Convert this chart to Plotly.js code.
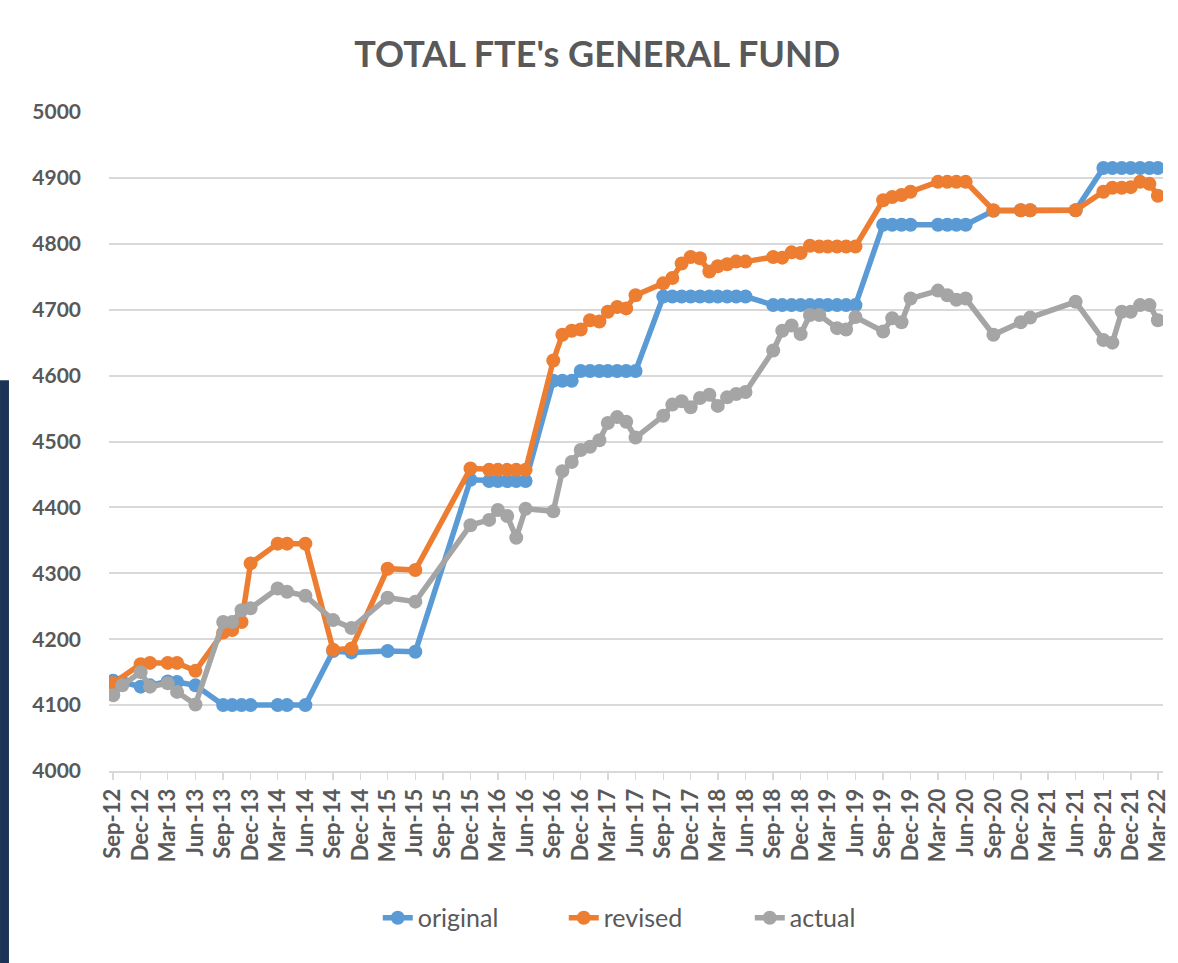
<!DOCTYPE html>
<html>
<head>
<meta charset="utf-8">
<script src="https://cdn.plot.ly/plotly-3.0.1.min.js"></script>
<style>
html,body{margin:0;padding:0;background:#fff;}
#chart{width:1178px;height:963px;}
</style>
</head>
<body>
<div id="chart"></div>
<script>
// Dates of the observations (mid-month)
const dates = [
 '2012-09-15','2012-10-15','2012-12-15','2013-01-15','2013-03-15','2013-04-15','2013-06-15',
 '2013-09-15','2013-10-15','2013-11-15','2013-12-15',
 '2014-03-15','2014-04-15','2014-06-15',
 '2014-09-15','2014-11-15',
 '2015-03-15','2015-06-15',
 '2015-12-15',
 '2016-02-15','2016-03-15','2016-04-15','2016-05-15','2016-06-15',
 '2016-09-15','2016-10-15','2016-11-15','2016-12-15','2017-01-15','2017-02-15','2017-03-15','2017-04-15','2017-05-15','2017-06-15',
 '2017-09-15','2017-10-15','2017-11-15','2017-12-15','2018-01-15','2018-02-15','2018-03-15','2018-04-15','2018-05-15','2018-06-15',
 '2018-09-15','2018-10-15','2018-11-15','2018-12-15','2019-01-15','2019-02-15','2019-03-15','2019-04-15','2019-05-15','2019-06-15',
 '2019-09-15','2019-10-15','2019-11-15','2019-12-15',
 '2020-03-15','2020-04-15','2020-05-15','2020-06-15',
 '2020-09-15','2020-12-15','2021-01-15','2021-06-15',
 '2021-09-15','2021-10-15','2021-11-15','2021-12-15','2022-01-15','2022-02-15','2022-03-15'
];

const original = [
 4137,4135,4128,4130,4136,4135,4130,
 4100,4100,4100,4100,
 4100,4100,4100,
 4182,4180,
 4182,4181,
 4442,
 4440,4440,4440,4440,4440,
 4592,4592,4592,4607,4607,4607,4607,4607,4607,4607,
 4720,4720,4720,4720,4720,4720,4720,4720,4720,4720,
 4707,4707,4707,4707,4707,4707,4707,4707,4707,4707,
 4829,4829,4829,4829,
 4829,4829,4829,4829,
 4850,4851,4851,4851,
 4915,4915,4915,4915,4915,4915,4915
];

const revised = [
 4133,null,4162,4164,4164,4164,4152,
 4210,4214,4226,4315,
 4345,4345,4345,
 4184,4186,
 4307,4305,
 4459,
 4457,4457,4457,4457,4457,
 4623,4662,4668,4670,4684,4682,4697,4704,4702,4722,
 4740,4748,4770,4780,4778,4758,4766,4769,4773,4773,
 4780,4779,4787,4786,4797,4796,4796,4796,4796,4796,
 4866,4871,4874,4879,
 4894,4894,4894,4894,
 4851,4851,4851,4851,
 4879,4885,4885,4886,4894,4891,4873
];

const actual = [
 4115,4130,4150,4128,4133,4120,4101,
 4226,4226,4244,4247,
 4277,4272,4266,
 4229,4217,
 4263,4257,
 4373,
 4381,4396,4387,4354,4398,
 4394,4455,4469,4487,4492,4502,4528,4537,4530,4506,
 4539,4556,4561,4552,4566,4571,4554,4567,4572,4575,
 4638,4668,4676,4663,4692,4692,null,4672,4670,4689,
 4667,4687,4681,4717,
 4729,4722,4715,4717,
 4662,4681,4688,4712,
 4654,4650,4697,4697,4707,4707,4684
];

const seriesNames = ['original','revised','actual'];
const seriesColors = ['#5B9BD5','#ED7D31','#A5A5A5'];
const seriesValues = [original, revised, actual];

const traces = seriesValues.map((vals, i) => ({
  type: 'scatter',
  mode: 'lines+markers',
  name: seriesNames[i],
  x: dates,
  y: vals,
  connectgaps: true,
  line: {color: seriesColors[i], width: 5.5},
  marker: {color: seriesColors[i], size: 14, symbol: 'circle'}
}));

const txt = '#595959';
const layout = {
  width: 1178,
  height: 963,
  paper_bgcolor: '#ffffff',
  plot_bgcolor: '#ffffff',
  margin: {l: 109, r: 15, t: 112, b: 192},
  font: {family: 'Lato, "Open Sans", sans-serif', color: txt},
  title: {
    text: "TOTAL FTE's GENERAL FUND",
    font: {size: 36, color: txt, weight: 'bold'},
    x: 0.507, xref: 'container', xanchor: 'center',
    y: 0.943, yref: 'container', yanchor: 'middle'
  },
  xaxis: {
    type: 'date',
    range: ['2012-09-01', '2022-04-01'],
    tick0: '2012-09-15',
    dtick: 'M3',
    tickformat: '%b-%y',
    tickangle: -90,
    tickfont: {size: 22, color: txt, weight: 'bold'},
    showgrid: false,
    showline: true,
    linecolor: '#D9D9D9',
    linewidth: 2,
    ticks: 'outside',
    ticklen: 7,
    tickcolor: '#D9D9D9',
    tickwidth: 1.5,
    zeroline: false,
    fixedrange: true
  },
  yaxis: {
    range: [4000, 5000],
    dtick: 100,
    tick0: 4000,
    tickformat: 'd',
    tickfont: {size: 21, color: txt, weight: 'bold'},
    showgrid: true,
    gridcolor: '#D9D9D9',
    gridwidth: 2,
    zeroline: false,
    showline: false,
    ticks: '',
    ticklabelstandoff: 27,
    fixedrange: true
  },
  showlegend: true,
  legend: {
    orientation: 'h',
    x: 0.255, xanchor: 'left',
    y: -0.223, yanchor: 'middle',
    font: {size: 25, color: txt},
    entrywidth: 141,
    entrywidthmode: 'pixels',
    traceorder: 'normal'
  },
  shapes: [
    {type: 'rect', xref: 'paper', yref: 'paper',
     x0: -0.1034, x1: -0.0949, y0: -0.2914, y1: 0.593,
     fillcolor: '#1c3357', line: {width: 0}, layer: 'below'}
  ]
};

Plotly.newPlot('chart', traces, layout, {displayModeBar: false, staticPlot: true});
</script>
</body>
</html>
